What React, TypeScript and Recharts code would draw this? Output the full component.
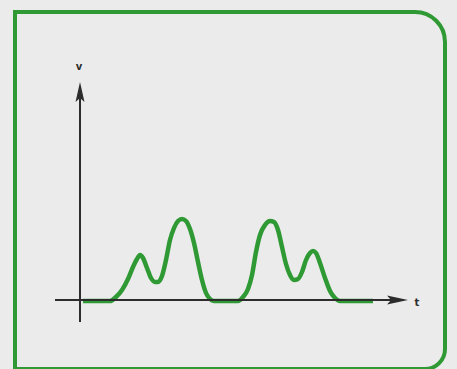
import React from "react";
import { LineChart, Line, XAxis, YAxis, ReferenceLine, ReferenceDot } from "recharts";

// Signal v(t): two pairs of bumps sitting on the baseline
const curveT = [
  0.3, 3.0, 3.6, 4.2, 4.8, 5.3, 5.7, 6.0, 6.3, 6.7, 7.1, 7.5, 7.8, 8.2, 8.6, 9.0, 9.4, 9.8, 10.2, 10.6, 11.0, 11.4, 11.8, 12.2, 12.6, 13.0, 13.4,
  15.8, 16.3, 16.8, 17.2, 17.6, 18.0, 18.5, 19.0, 19.4, 19.8, 20.2, 20.6, 21.0, 21.4, 21.8, 22.2, 22.6, 23.0, 23.3, 23.6, 24.0, 24.5, 25.0, 25.5, 26.0, 29.3,
];
const curveV = [
  -0.1, -0.1, 0.3, 1.0, 2.1, 3.3, 4.1, 4.5, 4.2, 3.2, 2.2, 1.8, 1.8, 2.4, 4.0, 6.0, 7.2, 7.9, 8.1, 7.9, 7.1, 5.7, 3.8, 2.0, 0.7, 0.1, -0.1,
  -0.1, 0.3, 1.1, 2.5, 4.8, 6.5, 7.5, 7.9, 7.8, 7.0, 5.3, 3.6, 2.5, 2.0, 2.1, 2.8, 4.0, 4.7, 4.9, 4.7, 3.7, 2.2, 0.9, 0.2, -0.1, -0.1,
];

// Axis extents (t runs right, v runs up)
const tAxisStart = -2.5;
const tAxisEnd = 32.8;
const vAxisStart = -2.2;
const vAxisEnd = 21.8;

const axisLabels = ["v", "t"];

const data = curveT.map((t, i) => ({ t, v: curveV[i] }));

const GREEN = "#2f9a34";
const INK = "#2c2c2c";
const BG = "#ebebeb";

const ArrowRight = (p: any) => (
  <path d={`M${p.cx},${p.cy} L${p.cx - 21},${p.cy - 4.5} L${p.cx - 17},${p.cy} L${p.cx - 21},${p.cy + 4.5} Z`} fill={INK} />
);
const ArrowUp = (p: any) => (
  <path d={`M${p.cx},${p.cy} L${p.cx - 4.5},${p.cy + 20} L${p.cx},${p.cy + 16} L${p.cx + 4.5},${p.cy + 20} Z`} fill={INK} />
);
const makeText = (s: string) => (p: any) => (
  <text x={p.cx} y={p.cy} textAnchor="middle" dominantBaseline="central" fontFamily="DejaVu Sans, sans-serif" fontSize={10} fontWeight="bold" fill={INK}>
    {s}
  </text>
);

export default function App() {
  return (
    <div style={{ position: "fixed", left: 0, top: 0, width: 457, height: 369, overflow: "hidden", background: BG }}>
      <div
        style={{
          position: "absolute",
          left: 13,
          top: 10,
          width: 434,
          height: 361,
          boxSizing: "border-box",
          border: `4px solid ${GREEN}`,
          borderRadius: "0 32px 22px 0",
        }}
      />
      <div style={{ position: "absolute", left: 0, top: 0 }}>
        <LineChart width={457} height={369} data={data} margin={{ top: 0, right: 0, bottom: 0, left: 0 }}>
          <XAxis type="number" dataKey="t" domain={[-8, 37.7]} hide allowDataOverflow />
          <YAxis type="number" domain={[-6.9, 30]} hide allowDataOverflow />
          <Line type="monotone" dataKey="v" stroke={GREEN} strokeWidth={4.5} dot={false} activeDot={false} isAnimationActive={false} />
          <ReferenceLine segment={[{ x: tAxisStart, y: 0 }, { x: tAxisEnd - 1.6, y: 0 }]} stroke={INK} strokeWidth={2} />
          <ReferenceLine segment={[{ x: 0, y: vAxisStart }, { x: 0, y: vAxisEnd - 1.6 }]} stroke={INK} strokeWidth={2} />
          <ReferenceDot x={tAxisEnd} y={0} r={1} shape={ArrowRight} />
          <ReferenceDot x={0} y={vAxisEnd} r={1} shape={ArrowUp} />
          <ReferenceDot x={-0.1} y={23.4} r={1} shape={makeText(axisLabels[0])} />
          <ReferenceDot x={33.7} y={-0.2} r={1} shape={makeText(axisLabels[1])} />
        </LineChart>
      </div>
    </div>
  );
}
